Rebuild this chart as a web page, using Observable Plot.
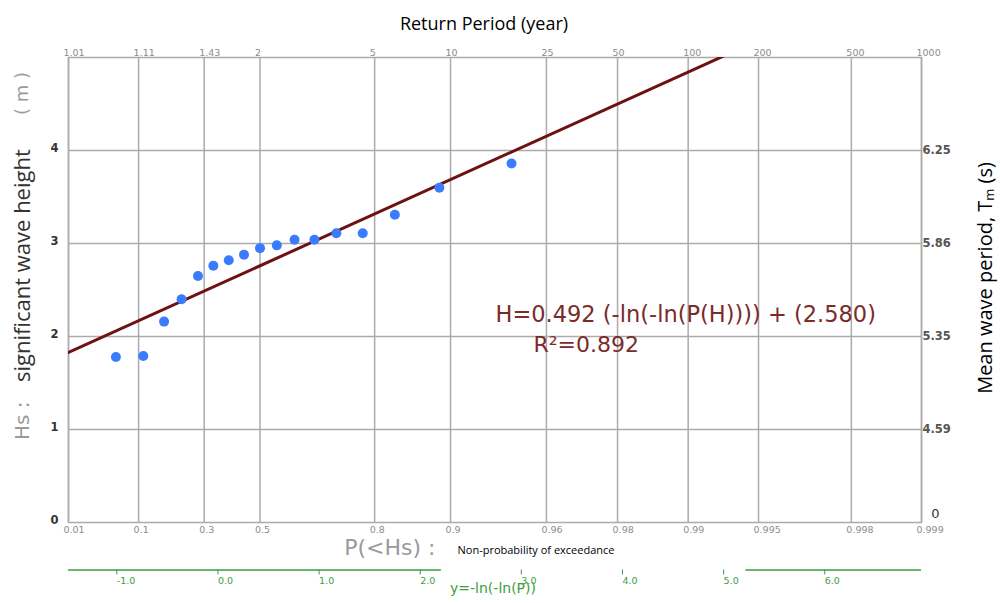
<!DOCTYPE html>
<html>
<head>
<meta charset="utf-8">
<script src="https://cdn.jsdelivr.net/npm/d3@7"></script>
<script src="https://cdn.jsdelivr.net/npm/@observablehq/plot@0.6"></script>
<style>
  html, body { margin: 0; padding: 0; background: #fff; overflow: hidden; }
  #chart svg { display: block; }
</style>
</head>
<body>
<div id="chart"></div>
<script>
// ---- data ----
// plotting positions (non-exceedance probability) of the ranked sample
const plotP = [0.056, 0.111, 0.167, 0.222, 0.278, 0.333, 0.389, 0.444, 0.5,
               0.556, 0.611, 0.667, 0.722, 0.778, 0.833, 0.889, 0.944];
// significant wave height Hs (m)
const hsValues = [1.78, 1.79, 2.16, 2.40, 2.65, 2.76, 2.82, 2.88, 2.95,
                  2.98, 3.04, 3.04, 3.11, 3.11, 3.31, 3.60, 3.86];
// fitted Gumbel line: H = slope * y + intercept
const fitSlope = 0.492;
const fitIntercept = 2.580;
const fitR2 = 0.892;
// probability ticks (bottom) and return periods (top) at the same positions
const pTicks = [0.01, 0.1, 0.3, 0.5, 0.8, 0.9, 0.96, 0.98, 0.99, 0.995, 0.998, 0.999];
const pLabels = ["0.01", "0.1", "0.3", "0.5", "0.8", "0.9", "0.96", "0.98", "0.99", "0.995", "0.998", "0.999"];
const rpLabels = ["1.01", "1.11", "1.43", "2", "5", "10", "25", "50", "100", "200", "500", "1000"];
// left axis ticks and right axis (mean wave period) labels
const hsTicks = [0, 1, 2, 3, 4];
const hsLabels = ["0", "1", "2", "3", "4"];
const tmTicks = [1, 2, 3, 4];
const tmLabels = ["4.59", "5.35", "5.86", "6.25"];
// reduced variate axis (green)
const yTicks = [-1, 0, 1, 2, 3, 4, 5, 6];
const yLabels = ["-1.0", "0.0", "1.0", "2.0", "3.0", "4.0", "5.0", "6.0"];
const greenAxisSegments = [[null, 2.16], [5.17, null]];

// ---- helpers ----
const gum = p => -Math.log(-Math.log(p));
const xMin = gum(pTicks[0]);
const xMax = gum(pTicks[pTicks.length - 1]);
const points = plotP.map((p, i) => ({y: gum(p), hs: hsValues[i]}));
const fitX = [xMin, xMax];
const tickPos = pTicks.map(gum);
const pMap = new Map(tickPos.map((v, i) => [v, pLabels[i]]));
const rpMap = new Map(tickPos.map((v, i) => [v, rpLabels[i]]));
const hsMap = new Map(hsTicks.map((v, i) => [v, hsLabels[i]]));
const tmMap = new Map(tmTicks.map((v, i) => [v, tmLabels[i]]));
const yMap = new Map(yTicks.map((v, i) => [v, yLabels[i]]));
const segs = greenAxisSegments.map(([a, b]) => ({x1: a ?? xMin, x2: b ?? xMax}));

const GRID = "#ababab";
const GREEN = "#3d9e3d";
const TICKTXT = "#8c8c8c";

const chart = Plot.plot({
  width: 1000,
  height: 603,
  marginLeft: 68,
  marginRight: 79,
  marginTop: 57,
  marginBottom: 81,
  style: {fontFamily: "DejaVu Sans, Verdana, sans-serif", background: "#fff"},
  x: {domain: [xMin, xMax], axis: null},
  y: {domain: [0, 5], axis: null},
  marks: [
    Plot.gridX(tickPos, {stroke: GRID, strokeOpacity: 1, strokeWidth: 1.5}),
    Plot.gridY([1, 2, 3, 4], {stroke: GRID, strokeOpacity: 1, strokeWidth: 1.5}),
    Plot.frame({stroke: GRID, strokeWidth: 1.5}),
    // bottom probability axis
    Plot.axisX(tickPos, {anchor: "bottom", label: null, tickSize: 0, tickPadding: 4, textAnchor: "start", dx: -5,
      tickFormat: d => pMap.get(d), fill: TICKTXT, fontSize: 9.5}),
    // top return period axis
    Plot.axisX(tickPos, {anchor: "top", label: null, tickSize: 0, tickPadding: 2, textAnchor: "start", dx: -5,
      tickFormat: d => rpMap.get(d), fill: TICKTXT, fontSize: 9.5}),
    // left Hs axis
    Plot.axisY(hsTicks, {anchor: "left", label: null, tickSize: 0, tickPadding: 10, fontWeight: "bold",
      fill: "#333", fontSize: 11.5, dy: -2, tickFormat: d => hsMap.get(d)}),
    // right mean wave period labels
    Plot.axisY(tmTicks, {anchor: "right", label: null, tickSize: 0, tickPadding: 1, fill: "#555", fontWeight: "bold",
      fontSize: 11.5, tickFormat: d => tmMap.get(d)}),
    Plot.text(["0"], {frameAnchor: "bottom-right", dx: 18, dy: -5, fontSize: 13, fill: "#333"}),
    // fitted line and sample
    Plot.line(fitX, {x: d => d, y: d => fitSlope * d + fitIntercept, stroke: "#6d1212", strokeWidth: 3, clip: true}),
    Plot.dot(points, {x: "y", y: "hs", r: 5, fill: "#3b7cff", stroke: "none"}),
    // equation
    Plot.text([`H=${fitSlope.toFixed(3)} (-ln(-ln(P(H)))) + (${fitIntercept.toFixed(3)})`], {
      frameAnchor: "top-left", dx: 427, dy: 249, textAnchor: "start", fontSize: 22.5, fill: "#7b2b2b"}),
    Plot.text([`R²=${fitR2.toFixed(3)}`], {
      frameAnchor: "top-left", dx: 465, dy: 279, textAnchor: "start", fontSize: 22, fill: "#7b2b2b"}),
    // green reduced variate axis
    Plot.ruleY(segs, {y: 0, x1: "x1", x2: "x2", dy: 47.5, stroke: GREEN, strokeWidth: 1.5}),
    Plot.axisX(yTicks, {anchor: "bottom", label: null, tickSize: 5, tickPadding: 2, dy: 47.5, textAnchor: "start", dx: -5,
      stroke: GREEN, fill: GREEN, fontSize: 9.5, tickFormat: d => yMap.get(d)}),
    Plot.text(["y=-ln(-ln(P))"], {frameAnchor: "bottom", dx: -2, dy: 70, fontSize: 14, fill: GREEN}),
    // titles
    Plot.text(["Return Period (year)"], {frameAnchor: "top", dx: -11, dy: -40, fontSize: 18, fill: "#000",
      fontFamily: "Open Sans, sans-serif"}),
    Plot.text(["P(<Hs) :"], {frameAnchor: "bottom-left", dx: 367, dy: 32, textAnchor: "end", fontSize: 22,
      fill: "#9a9a9a"}),
    Plot.text(["Non-probability of exceedance"], {frameAnchor: "bottom-left", dx: 389, dy: 31, textAnchor: "start",
      fontSize: 11, fill: "#000", fontFamily: "Open Sans, sans-serif"}),
    // left title pieces (rotated)
    Plot.text(["Hs :"], {frameAnchor: "left", dx: -46, dy: 150, rotate: -90, textAnchor: "start",
      fontSize: 20, fill: "#9a9a9a"}),
    Plot.text(["significant wave height"], {frameAnchor: "left", dx: -46, dy: 92, rotate: -90, textAnchor: "start",
      fontSize: 22, fill: "#333", fontFamily: "Open Sans, sans-serif"}),
    Plot.text(["( m )"], {frameAnchor: "left", dx: -46, dy: -175, rotate: -90, textAnchor: "start",
      fontSize: 18, fill: "#9a9a9a"}),
    // right title
    Plot.text(["Mean wave period, Tₘ (s)"], {frameAnchor: "right", dx: 64, dy: -12, rotate: -90,
      textAnchor: "middle", fontSize: 20, fill: "#000", fontFamily: "Open Sans, sans-serif"})
  ]
});
document.getElementById("chart").appendChild(chart);
</script>
</body>
</html>
